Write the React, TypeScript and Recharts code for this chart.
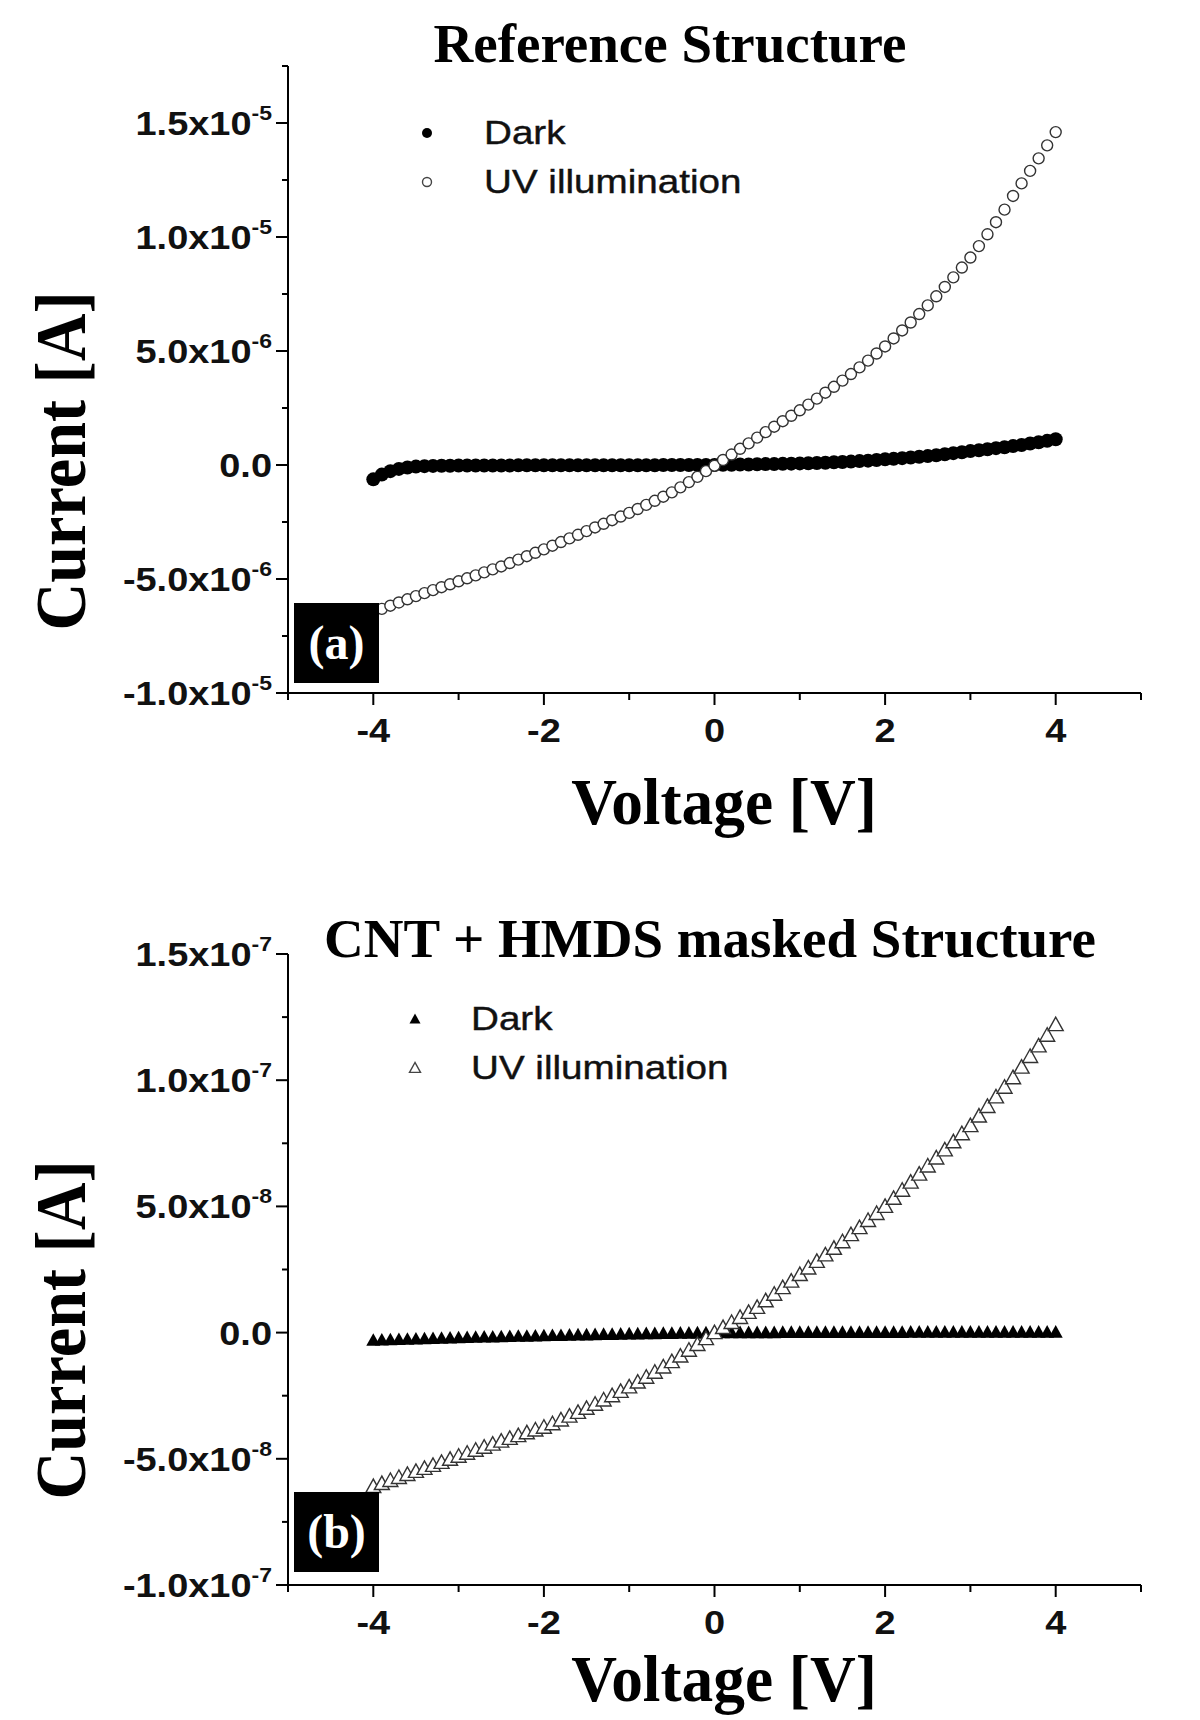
import { Legend, Scatter, ScatterChart, XAxis, YAxis } from "recharts"

// bias voltage, V
const volts = [
  -4, -3.9, -3.8, -3.7, -3.6, -3.5, -3.4, -3.3, -3.2, -3.1,
  -3, -2.9, -2.8, -2.7, -2.6, -2.5, -2.4, -2.3, -2.2, -2.1,
  -2, -1.9, -1.8, -1.7, -1.6, -1.5, -1.4, -1.3, -1.2, -1.1,
  -1, -0.9, -0.8, -0.7, -0.6, -0.5, -0.4, -0.3, -0.2, -0.1,
  0, 0.1, 0.2, 0.3, 0.4, 0.5, 0.6, 0.7, 0.8, 0.9,
  1, 1.1, 1.2, 1.3, 1.4, 1.5, 1.6, 1.7, 1.8, 1.9,
  2, 2.1, 2.2, 2.3, 2.4, 2.5, 2.6, 2.7, 2.8, 2.9,
  3, 3.1, 3.2, 3.3, 3.4, 3.5, 3.6, 3.7, 3.8, 3.9,
  4,
]

// (a) reference structure, current in units of 1e-6 A
const refDark = [
  -0.63, -0.42, -0.27, -0.17, -0.11, -0.07, -0.05, -0.04, -0.03, -0.03,
  -0.02, -0.02, -0.02, -0.02, -0.02, -0.02, -0.02, -0.01, -0.01, -0.01,
  -0.01, -0.01, -0.01, -0.01, -0.01, -0.01, -0.01, -0.01, -0.01, -0.01,
  -0.01, -0.01, -0.01, -0.01, 0, 0, 0, 0, 0, 0,
  0, 0.01, 0.01, 0.02, 0.02, 0.03, 0.04, 0.04, 0.05, 0.06,
  0.07, 0.08, 0.09, 0.1, 0.12, 0.13, 0.15, 0.17, 0.19, 0.22,
  0.25, 0.27, 0.3, 0.33, 0.36, 0.39, 0.43, 0.47, 0.52, 0.56,
  0.61, 0.65, 0.69, 0.74, 0.78, 0.83, 0.88, 0.94, 1.0, 1.06,
  1.13,
]
const refUv = [
  -6.45, -6.31, -6.17, -6.03, -5.89, -5.75, -5.62, -5.49, -5.36, -5.23,
  -5.1, -4.97, -4.84, -4.71, -4.58, -4.45, -4.3, -4.15, -4.0, -3.85,
  -3.7, -3.54, -3.38, -3.22, -3.06, -2.9, -2.74, -2.58, -2.42, -2.26,
  -2.1, -1.93, -1.75, -1.57, -1.39, -1.2, -0.98, -0.75, -0.52, -0.27,
  -0.03, 0.22, 0.46, 0.71, 0.95, 1.2, 1.44, 1.68, 1.92, 2.16,
  2.4, 2.65, 2.91, 3.17, 3.43, 3.7, 3.99, 4.28, 4.58, 4.89,
  5.2, 5.55, 5.9, 6.25, 6.62, 7.0, 7.4, 7.81, 8.23, 8.66,
  9.1, 9.6, 10.12, 10.65, 11.2, 11.8, 12.35, 12.9, 13.45, 14.02,
  14.6,
]

// (b) CNT + HMDS masked structure, current in units of 1e-8 A
const cntDark = [
  -0.3, -0.29, -0.28, -0.27, -0.26, -0.25, -0.24, -0.23, -0.22, -0.21,
  -0.2, -0.19, -0.18, -0.17, -0.17, -0.16, -0.15, -0.14, -0.14, -0.13,
  -0.12, -0.11, -0.11, -0.1, -0.09, -0.09, -0.08, -0.07, -0.07, -0.06,
  -0.05, -0.05, -0.04, -0.04, -0.03, -0.03, -0.02, -0.02, -0.01, -0.01,
  0, 0, 0, 0, 0, 0, 0, 0, 0.01, 0.01,
  0.01, 0.01, 0.01, 0.01, 0.01, 0.01, 0.01, 0.01, 0.01, 0.01,
  0.01, 0.01, 0.01, 0.02, 0.02, 0.02, 0.02, 0.02, 0.02, 0.02,
  0.02, 0.02, 0.02, 0.02, 0.02, 0.02, 0.02, 0.02, 0.02, 0.02,
  0.02,
]
const cntUv = [
  -6.1, -5.98, -5.86, -5.74, -5.62, -5.5, -5.38, -5.26, -5.14, -5.02,
  -4.9, -4.78, -4.66, -4.54, -4.42, -4.3, -4.19, -4.08, -3.97, -3.86,
  -3.75, -3.61, -3.46, -3.31, -3.16, -3.0, -2.84, -2.67, -2.5, -2.33,
  -2.15, -1.96, -1.77, -1.57, -1.36, -1.15, -0.93, -0.7, -0.47, -0.24,
  0, 0.2, 0.4, 0.6, 0.8, 1.0, 1.26, 1.52, 1.78, 2.04,
  2.3, 2.56, 2.82, 3.08, 3.34, 3.6, 3.88, 4.16, 4.44, 4.72,
  5.0, 5.32, 5.64, 5.96, 6.28, 6.6, 6.92, 7.24, 7.56, 7.88,
  8.2, 8.58, 8.96, 9.34, 9.72, 10.1, 10.52, 10.94, 11.36, 11.78,
  12.2,
]

const xTicks = [-5, -4, -3, -2, -1, 0, 1, 2, 3, 4, 5]
const refYTicks = [-10, -7.5, -5, -2.5, 0, 2.5, 5, 7.5, 10, 12.5, 15, 17.5]
const cntYTicks = [-10, -7.5, -5, -2.5, 0, 2.5, 5, 7.5, 10, 12.5, 15]

// labelled y ticks: mantissa text + exponent
const refYLabels = [
  { v: 15, m: "1.5x10", e: "-5" },
  { v: 10, m: "1.0x10", e: "-5" },
  { v: 5, m: "5.0x10", e: "-6" },
  { v: 0, m: "0.0", e: "" },
  { v: -5, m: "-5.0x10", e: "-6" },
  { v: -10, m: "-1.0x10", e: "-5" },
]
const cntYLabels = [
  { v: 15, m: "1.5x10", e: "-7" },
  { v: 10, m: "1.0x10", e: "-7" },
  { v: 5, m: "5.0x10", e: "-8" },
  { v: 0, m: "0.0", e: "" },
  { v: -5, m: "-5.0x10", e: "-8" },
  { v: -10, m: "-1.0x10", e: "-7" },
]

const sans = "'Liberation Sans', Arial, sans-serif"
const serif = "'Liberation Serif', 'Times New Roman', serif"

const toPoints = (ys: number[]) => volts.map((v, i) => ({ v, i: ys[i] }))

function XTick({ x, y, payload }: any) {
  const v = payload.value
  const major = v % 2 === 0
  return (
    <g>
      <line x1={x} y1={y} x2={x} y2={y + (major ? 12 : 7)} stroke="#000" strokeWidth={2} />
      {major && (
        <text transform={`translate(${x} ${y + 49}) scale(1.15 1)`} textAnchor="middle"
          fontFamily={sans} fontWeight={700} fontSize={33} fill="#111">
          {v}
        </text>
      )}
    </g>
  )
}

const makeYTick = (labels: { v: number, m: string, e: string }[]) => ({ x, y, payload }: any) => {
  const lab = labels.find(l => l.v === payload.value)
  return (
    <g>
      <line x1={x} y1={y} x2={x - (lab ? 12 : 6)} y2={y} stroke="#000" strokeWidth={2} />
      {lab && (
        <text transform={`translate(${x - 16} ${y + 12}) scale(1.15 1)`} textAnchor="end"
          fontFamily={sans} fontWeight={700} fontSize={33} fill="#111">
          {lab.m}
          {lab.e && <tspan fontSize={20} dy={-15}>{lab.e}</tspan>}
        </text>
      )}
    </g>
  )
}

const dot = (r: number, fill: string, stroke?: string) => (p: any) =>
  <circle cx={p.cx} cy={p.cy} r={r} fill={fill} stroke={stroke || "none"} strokeWidth={1.4} />

const tri = (s: number, fill: string, stroke?: string) => (p: any) =>
  <path d={`M${p.cx},${p.cy - s} L${p.cx - s},${p.cy + s * 0.8} L${p.cx + s},${p.cy + s * 0.8} Z`}
    fill={fill} stroke={stroke || "none"} strokeWidth={1.4} strokeLinejoin="miter" />

function LegendBox({ items, markerX, textX }: any) {
  return (
    <div style={{ fontFamily: sans, fontSize: 33, color: "#111" }}>
      {items.map((it: any) => (
        <div key={it.label} style={{ height: 49, display: "flex", alignItems: "center", position: "relative" }}>
          <svg width={24} height={24} style={{ position: "absolute", left: markerX - 12 }}>
            {it.marker({ cx: 12, cy: 12 })}
          </svg>
          <span style={{ position: "absolute", left: textX, transform: "scaleX(1.17)", transformOrigin: "left center", whiteSpace: "nowrap", fontWeight: 500, WebkitTextStroke: "0.4px #111" }}>
            {it.label}
          </span>
        </div>
      ))}
    </div>
  )
}

function Panel({ title, titleX, titleY, dark, uv, darkShape, uvShape, legendDark, legendUv, yTicks, yLabels, yMax, top, xAxisH, tag, tagTop, legendTop, markerX, textX }: any) {
  const YTick = makeYTick(yLabels)
  return (
    <div style={{ position: "absolute", left: 0, top, width: 1200, height: 860 }}>
      <ScatterChart width={1200} height={860} margin={{ top: 860 - xAxisH - (yMax.h), right: 59, left: 0, bottom: 0 }}>
        <XAxis type="number" dataKey="v" domain={[-5, 5]} ticks={xTicks} interval={0}
          axisLine={{ stroke: "#000", strokeWidth: 2 }} tickLine={false} tickSize={0} tickMargin={0}
          height={xAxisH} tick={<XTick />} />
        <YAxis type="number" dataKey="i" domain={[-10, yMax.v]} ticks={yTicks} interval={0}
          axisLine={{ stroke: "#000", strokeWidth: 2 }} tickLine={false} tickSize={0} tickMargin={0}
          width={288} tick={<YTick />} />
        <Legend layout="vertical" align="center" verticalAlign="middle"
          wrapperStyle={{ left: 0, top: legendTop, width: 900 }}
          content={() => (
            <LegendBox markerX={markerX} textX={textX} items={[
              { label: "Dark", marker: legendDark },
              { label: "UV illumination", marker: legendUv },
            ]} />
          )} />
        <Scatter name="Dark" data={dark} shape={darkShape} isAnimationActive={false} />
        <Scatter name="UV illumination" data={uv} shape={uvShape} isAnimationActive={false} />
      </ScatterChart>
      <div style={{ position: "absolute", left: titleX - 500, width: 1000, top: titleY - 30, height: 60, lineHeight: "60px", textAlign: "center", fontFamily: serif, fontWeight: 700, fontSize: 55, color: "#000", whiteSpace: "nowrap" }}>
        {title}
      </div>
      <div style={{ position: "absolute", left: 61 - 200, width: 400, top: yMax.cy - 30, height: 60, lineHeight: "60px", textAlign: "center", fontFamily: serif, fontWeight: 700, fontSize: 72, color: "#000", transform: "rotate(-90deg) scaleX(0.92)", whiteSpace: "nowrap" }}>
        Current [A]
      </div>
      <div style={{ position: "absolute", left: 724 - 200, width: 400, top: yMax.vy - 26, height: 52, lineHeight: "52px", textAlign: "center", fontFamily: serif, fontWeight: 700, fontSize: 66, color: "#000", transform: "scaleX(0.96)", whiteSpace: "nowrap" }}>
        Voltage [V]
      </div>
      <div style={{ position: "absolute", left: 294, top: tagTop, width: 85, height: 80, background: "#000", color: "#fff", fontFamily: serif, fontWeight: 700, fontSize: 48, lineHeight: "80px", textAlign: "center" }}>
        {tag}
      </div>
    </div>
  )
}

export default function App() {
  return (
    <div style={{ position: "absolute", left: 0, top: 0, width: 1200, height: 1720, background: "#fff", overflow: "hidden" }}>
      <Panel
        top={0} xAxisH={167} yMax={{ v: 17.5, h: 627, cy: 461, vy: 802 }}
        title="Reference Structure" titleX={670} titleY={44}
        dark={toPoints(refDark)} uv={toPoints(refUv)}
        darkShape={dot(7, "#000")} uvShape={dot(5.5, "#fff", "#333")}
        legendDark={dot(5, "#000")} legendUv={dot(4.5, "#fff", "#444")}
        yTicks={refYTicks} yLabels={refYLabels}
        tag="(a)" tagTop={603} legendTop={108} markerX={427} textX={484}
      />
      <Panel
        top={860} xAxisH={135} yMax={{ v: 15, h: 631, cy: 470, vy: 819 }}
        title="CNT + HMDS masked Structure" titleX={710} titleY={79}
        dark={toPoints(cntDark)} uv={toPoints(cntUv)}
        darkShape={tri(7, "#000")} uvShape={tri(7.5, "#fff", "#333")}
        legendDark={tri(5.5, "#000")} legendUv={tri(5.5, "#fff", "#444")}
        yTicks={cntYTicks} yLabels={cntYLabels}
        tag="(b)" tagTop={632} legendTop={134} markerX={415} textX={471}
      />
    </div>
  )
}
